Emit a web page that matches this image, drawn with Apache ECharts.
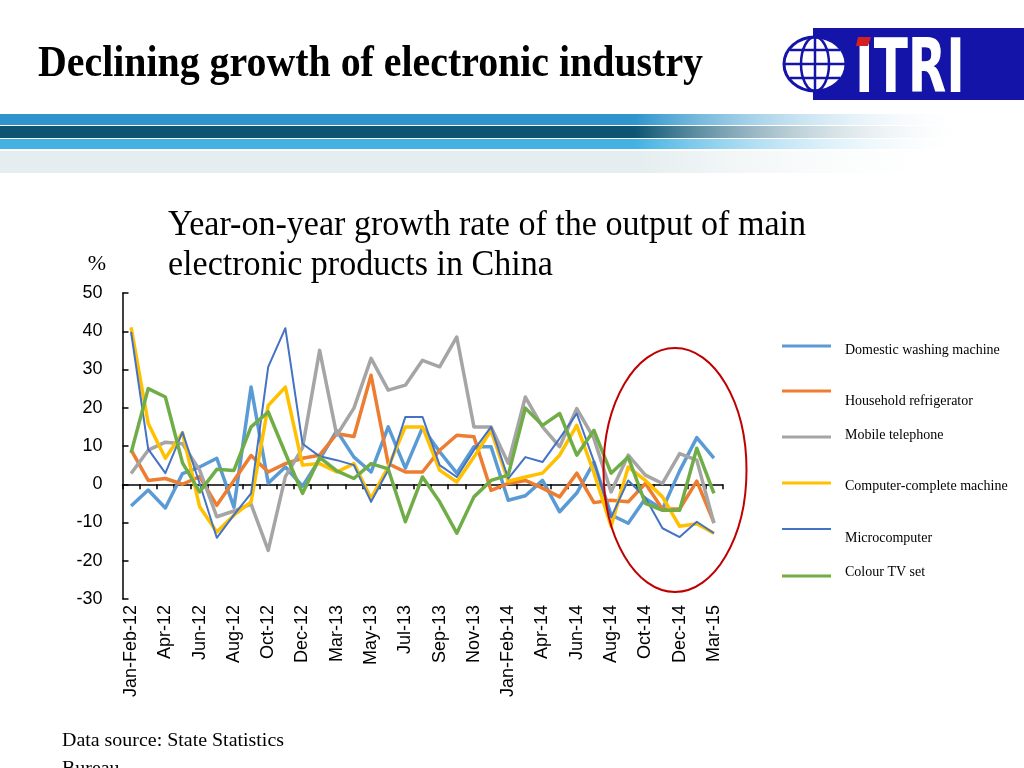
<!DOCTYPE html>
<html>
<head>
<meta charset="utf-8">
<script src="https://cdn.jsdelivr.net/npm/echarts@6/dist/echarts.min.js"></script>
<style>
html,body{margin:0;padding:0;background:#fff;}
#chart{width:1024px;height:768px;}
</style>
</head>
<body>
<div id="chart"></div>
<script>
// ---------- data ----------
const categories = ['Jan-Feb-12','Mar-12','Apr-12','May-12','Jun-12','Jul-12','Aug-12','Sep-12','Oct-12','Nov-12','Dec-12',
  'Jan-Feb-13','Mar-13','Apr-13','May-13','Jun-13','Jul-13','Aug-13','Sep-13','Oct-13','Nov-13','Dec-13',
  'Jan-Feb-14','Mar-14','Apr-14','May-14','Jun-14','Jul-14','Aug-14','Sep-14','Oct-14','Nov-14','Dec-14',
  'Jan-Feb-15','Mar-15'];
const seriesNames = ['Domestic washing machine','Household refrigerator','Mobile telephone','Computer-complete machine','Microcomputer','Colour TV set'];
const washingMachine = [-5.7,-1.5,-6.2,2.8,4.5,6.8,-6,25.4,0.3,4.5,-0.5,6.5,14,7.1,3.2,15,4.2,14.8,8.5,2.9,9.8,9.8,-4.2,-3,1,-7.2,-2.3,5.8,-8,-10.2,-3.7,-6.5,3.5,12.2,6.8];
const refrigerator = [9,1,1.5,0,2,-5.5,1,7.5,3.2,5.4,6.8,7.6,13.2,12.5,28.5,5.4,3.2,3.2,8.9,12.8,12.4,-1.6,0.2,1,-1,-3.3,2.9,-4.8,-4.2,-4.6,0.2,-6.5,-6.5,0.8,-10];
const mobilePhone = [2.8,8.9,11,10.6,3.7,-8.5,-7,-5.2,-17.3,2,9.5,35,12.8,19.9,32.9,24.6,25.9,32.4,30.7,38.5,15,15,5.5,22.8,15,9.8,19.8,12,-2,7.6,2.4,0.2,8,6.3,-10.2];
const computerComplete = [41,15.9,6.8,13.5,-5.9,-12.5,-8.1,-4.6,20.6,25.4,5,5.4,3.2,5.4,-3.7,4.5,15,15,3.7,0.6,7.1,14.1,0.8,1.9,2.9,7.6,15.4,3,-11,4.5,1,-3.3,-11,-10.3,-12.8];
const microcomputer = [39.8,9.2,2.9,13.6,0.2,-14,-8,-2.4,30.7,40.8,10.6,7.3,6.3,5,-4.6,3.7,17.6,17.6,5,1.9,8.9,15,1.5,7.1,5.8,12,18.5,6,-8.7,1,-3.5,-11.5,-13.8,-9.8,-12.8];
const colourTV = [8.2,25,22.8,5.6,-2,3.9,3.6,15,18.9,8.1,-2.4,7,3.5,1.5,5.4,4,-9.8,1.9,-4.6,-12.8,-3.3,1,2.4,19.9,15.4,18.5,7.6,14.1,2.9,7.1,-5,-6.8,-6.8,9.4,-2.4];
const yTicks = [-30,-20,-10,0,10,20,30,40,50];

const allValues = [washingMachine, refrigerator, mobilePhone, computerComplete, microcomputer, colourTV];
const colors = ['#5B9BD5','#ED7D31','#A5A5A5','#FFC000','#4472C4','#70AD47'];
const widths = [3.5,3.5,3.5,3.5,2,3.5];

// ---------- layout helpers ----------
const ctx = document.createElement('canvas').getContext('2d');
function fitScale(text, font, target){ ctx.font = font; return target / ctx.measureText(text).width; }

const serif = '"Liberation Serif","Times New Roman",serif';
const sans = '"Liberation Sans",Arial,sans-serif';

const titleFont = 'bold 45px ' + serif;
const titleText = 'Declining growth of electronic industry';
const subFont = '36px ' + serif;
const sub1 = 'Year-on-year growth rate of the output of main';
const sub2 = 'electronic products in China';
const subScale = fitScale(sub1, subFont, 638);
const footFont = '19px ' + serif;
const foot1 = 'Data source: State Statistics';
const footScale = fitScale(foot1, footFont, 222);
const logoFont = 'bold 74px "DejaVu Sans"';

// legend placement: [line center y, text center y]
const legendPos = [[346,350],[391,401],[437,435.5],[483,486.5],[529,538],[576,572]];

const chart = echarts.init(document.getElementById('chart'), null, {renderer:'canvas'});

const legends = [];
seriesNames.forEach((n,i)=>{
  const ih = widths[i] < 3 ? 2 : 3;
  legends.push({
    data:[n], left:782, top:legendPos[i][0] - ih/2, orient:'vertical', padding:0, itemGap:0,
    itemWidth:49, itemHeight:ih, icon:'rect', selectedMode:false,
    formatter:()=>'', textStyle:{fontSize:1}
  });
  legends.push({
    data:[n], left:840, top:legendPos[i][1] - 8, orient:'vertical', padding:0, itemGap:0,
    itemWidth:0, itemHeight:16, icon:'rect', itemStyle:{opacity:0}, selectedMode:false,
    textStyle:{fontFamily:serif, fontSize:14, color:'#000', lineHeight:16}
  });
});

const bandGrad = (c)=>({type:'linear',x:0,y:0,x2:1,y2:0,colorStops:[
  {offset:0,color:c},{offset:0.62,color:c},{offset:0.95,color:'rgba(255,255,255,0)'}]});

const graphics = [
  {type:'rect', shape:{x:0,y:114,width:1024,height:11}, style:{fill:bandGrad('#2f95cc')}, silent:true},
  {type:'rect', shape:{x:0,y:126,width:1024,height:12}, style:{fill:bandGrad('#0d5573')}, silent:true},
  {type:'rect', shape:{x:0,y:139,width:1024,height:10}, style:{fill:bandGrad('#43b2e3')}, silent:true},
  {type:'rect', shape:{x:0,y:151,width:1024,height:22}, style:{fill:bandGrad('#e4edef')}, silent:true},
  {type:'text', x:38, y:64, scaleX:fitScale(titleText,titleFont,665), style:{text:titleText, font:titleFont, fill:'#000', align:'left', verticalAlign:'middle'}},
  {type:'rect', shape:{x:813,y:28,width:211,height:72}, style:{fill:'#1414a8'}},
  {type:'ellipse', shape:{cx:815,cy:64,rx:31,ry:27}, style:{fill:'#fff', stroke:'#1414a8', lineWidth:3}},
  {type:'ellipse', shape:{cx:815,cy:64,rx:14,ry:27}, style:{fill:'none', stroke:'#1414a8', lineWidth:2.5}},
  {type:'line', shape:{x1:815,y1:37,x2:815,y2:91}, style:{stroke:'#1414a8', lineWidth:2.5}},
  {type:'line', shape:{x1:785,y1:64,x2:845,y2:64}, style:{stroke:'#1414a8', lineWidth:2.5}},
  {type:'line', shape:{x1:790,y1:50,x2:840,y2:50}, style:{stroke:'#1414a8', lineWidth:2.5}},
  {type:'line', shape:{x1:790,y1:78,x2:840,y2:78}, style:{stroke:'#1414a8', lineWidth:2.5}},
  {type:'text', x:855, y:73, scaleX:fitScale('ITRI',logoFont,110), style:{text:'ITRI', font:logoFont, fill:'#fff', align:'left', verticalAlign:'middle'}},
  {type:'polygon', shape:{points:[[858,37],[871,37],[868,46],[856,46]]}, style:{fill:'#d42020'}},
  {type:'text', x:168, y:226, scaleX:subScale, style:{text:sub1, font:subFont, fill:'#000', align:'left', verticalAlign:'middle'}},
  {type:'text', x:168, y:266, scaleX:subScale, style:{text:sub2, font:subFont, fill:'#000', align:'left', verticalAlign:'middle'}},
  {type:'text', x:97, y:264, style:{text:'%', font:'22px ' + serif, fill:'#000', align:'center', verticalAlign:'middle'}},
  {type:'text', x:62, y:741, scaleX:footScale, style:{text:foot1, font:footFont, fill:'#000', align:'left', verticalAlign:'middle'}},
  {type:'text', x:62, y:769, scaleX:footScale, style:{text:'Bureau', font:footFont, fill:'#000', align:'left', verticalAlign:'middle'}},
  {type:'ellipse', z:100, shape:{cx:675,cy:470,rx:71.5,ry:122}, style:{fill:'none', stroke:'#C00000', lineWidth:2}}
];

const option = {
  backgroundColor:'#fff',
  animation:false,
  grid:{left:122.5, width:600, top:293, height:306, containLabel:false},
  legend: legends,
  xAxis:[
    {type:'category', data:categories, boundaryGap:true,
     axisLine:{show:true, onZero:true, lineStyle:{color:'#000', width:1.5}},
     axisTick:{show:true, interval:0, length:5, lineStyle:{color:'#000', width:1.5}},
     axisLabel:{show:false}, splitLine:{show:false}},
    {type:'category', data:categories, boundaryGap:true, position:'bottom',
     axisLine:{show:false, onZero:false}, axisTick:{show:false},
     axisLabel:{show:true, interval:1, rotate:90, margin:6, color:'#000', fontFamily:sans, fontSize:18},
     splitLine:{show:false}}
  ],
  yAxis:{type:'value', min:yTicks[0], max:yTicks[yTicks.length-1], interval:10,
    axisLine:{show:true, lineStyle:{color:'#000', width:1.5}},
    axisTick:{show:true, inside:true, length:6, lineStyle:{color:'#000', width:1.5}},
    axisLabel:{color:'#000', fontFamily:sans, fontSize:18, margin:20},
    splitLine:{show:false}},
  series: seriesNames.map((n,i)=>({
    name:n, type:'line', xAxisIndex:0, data:allValues[i], color:colors[i],
    showSymbol:false, symbol:'none', smooth:false,
    lineStyle:{color:colors[i], width:widths[i], join:'round'}
  })),
  graphic: graphics
};
chart.setOption(option);
</script>
</body>
</html>
